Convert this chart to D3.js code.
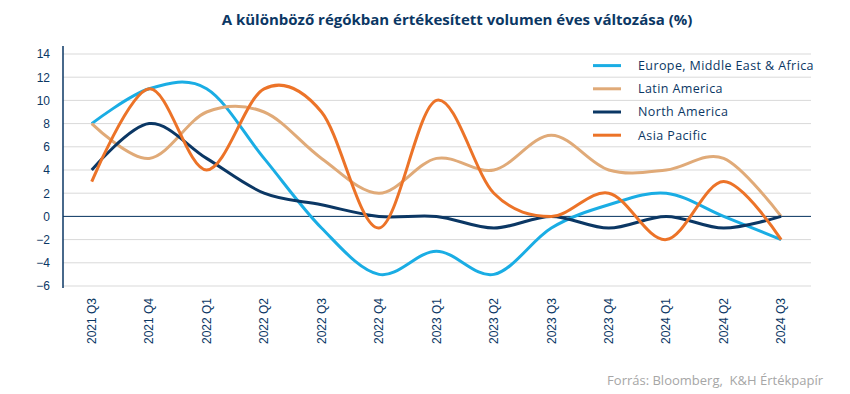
<!DOCTYPE html>
<html>
<head>
<meta charset="utf-8">
<script src="https://cdn.jsdelivr.net/npm/d3@7"></script>
<style>
  body { margin: 0; background: #fff; }
  svg text { font-family: "Liberation Sans", Arial, sans-serif; }
</style>
</head>
<body>
<div id="chart"></div>
<script>
// data
const quarters = ["2021 Q3", "2021 Q4", "2022 Q1", "2022 Q2", "2022 Q3", "2022 Q4", "2023 Q1",
                  "2023 Q2", "2023 Q3", "2023 Q4", "2024 Q1", "2024 Q2", "2024 Q3"];
const emea = [8, 11, 11, 5, -1, -5, -3, -5, -1, 1, 2, 0, -2];
const latinAmerica = [8, 5, 9, 9, 5, 2, 5, 4, 7, 4, 4, 5, 0];
const northAmerica = [4, 8, 5, 2, 1, 0, 0, -1, 0, -1, 0, -1, 0];
const asiaPacific = [3, 11, 4, 11, 9, -1, 10, 2, 0, 2, -2, 3, -2];
const yTicks = [-6, -4, -2, 0, 2, 4, 6, 8, 10, 12, 14];

const series = [
  { name: "Europe, Middle East & Africa", values: emea, color: "#1aade4" },
  { name: "Latin America", values: latinAmerica, color: "#e0aa78" },
  { name: "North America", values: northAmerica, color: "#0b3764" },
  { name: "Asia Pacific", values: asiaPacific, color: "#ec7328" }
];

const width = 850;
const height = 394;
const marginLeft = 63;
const marginTop = 54;
const chartWidth = 748;
const chartHeight = 232;
const navy = "#0b3764";

const svg = d3.select("#chart").append("svg")
  .attr("width", width)
  .attr("height", height);

// title
svg.append("text")
  .attr("x", 457)
  .attr("y", 25)
  .attr("text-anchor", "middle")
  .style("font-family", "'Open Sans', sans-serif")
  .style("font-weight", "bold")
  .style("font-size", "15px")
  .style("fill", navy)
  .text("A különböző régókban értékesített volumen éves változása (%)");

const chart = svg.append("g")
  .attr("transform", `translate(${marginLeft}, ${marginTop})`);

const x = d3.scaleBand()
  .domain(quarters)
  .range([0, chartWidth * 13 / 13.02]);

const y = d3.scaleLinear()
  .domain([-6, 14])
  .range([chartHeight, 0]);

// grid lines
chart.append("g")
  .selectAll("line")
  .data(yTicks)
  .enter().append("line")
  .attr("x1", 0)
  .attr("x2", chartWidth)
  .attr("y1", d => y(d))
  .attr("y2", d => y(d))
  .style("stroke", "#d9d9d9")
  .style("stroke-width", 1);

// y axis
const yAxis = chart.append("g")
  .call(d3.axisLeft(y).tickValues(yTicks).tickSize(0).tickPadding(13));
yAxis.select(".domain").remove();
yAxis.selectAll("text")
  .style("font-size", "12px")
  .style("fill", navy);

chart.append("line")
  .attr("x1", 0).attr("x2", 0)
  .attr("y1", -8).attr("y2", chartHeight + 2)
  .style("stroke", navy)
  .style("stroke-width", 1.5);

// x axis labels
const xAxis = chart.append("g")
  .attr("transform", `translate(0, ${chartHeight})`)
  .call(d3.axisBottom(x).tickSize(0).tickPadding(0));
xAxis.select(".domain").remove();
xAxis.selectAll("text")
  .attr("transform", "rotate(-90)")
  .attr("x", -12)
  .attr("y", 0)
  .attr("dy", "0.35em")
  .style("text-anchor", "end")
  .style("font-size", "12px")
  .style("fill", navy);

// legend
const legend = chart.selectAll(".legend")
  .data(series)
  .enter().append("g")
  .attr("class", "legend")
  .attr("transform", (d, i) => `translate(530, ${y(13) + i * (y(12) - y(14))})`);

legend.append("line")
  .attr("x1", 0).attr("x2", 28)
  .style("stroke", d => d.color)
  .style("stroke-width", 3);

legend.append("text")
  .attr("x", 45)
  .attr("dy", "0.35em")
  .style("font-family", "'Open Sans', sans-serif")
  .style("font-size", "12.5px")
  .style("letter-spacing", "0.4px")
  .style("fill", navy)
  .text(d => d.name);

// zero line
chart.append("line")
  .attr("x1", 0).attr("x2", chartWidth)
  .attr("y1", y(0)).attr("y2", y(0))
  .style("stroke", navy)
  .style("stroke-width", 1);

// lines
const line = d3.line()
  .x((d, i) => x(quarters[i]) + x.bandwidth() / 2)
  .y(d => y(d))
  .curve(d3.curveCardinal.tension(0));

chart.selectAll(".series")
  .data(series)
  .enter().append("path")
  .attr("class", "series")
  .attr("d", d => line(d.values))
  .style("fill", "none")
  .style("stroke", d => d.color)
  .style("stroke-width", 3);

// source
svg.append("text")
  .attr("x", 823)
  .attr("y", 385)
  .attr("text-anchor", "end")
  .style("font-family", "'Open Sans', sans-serif")
  .style("font-size", "13px")
  .style("white-space", "pre")
  .style("fill", "#a6a6a6")
  .text("Forrás: Bloomberg,  K&H Értékpapír");
</script>
</body>
</html>
